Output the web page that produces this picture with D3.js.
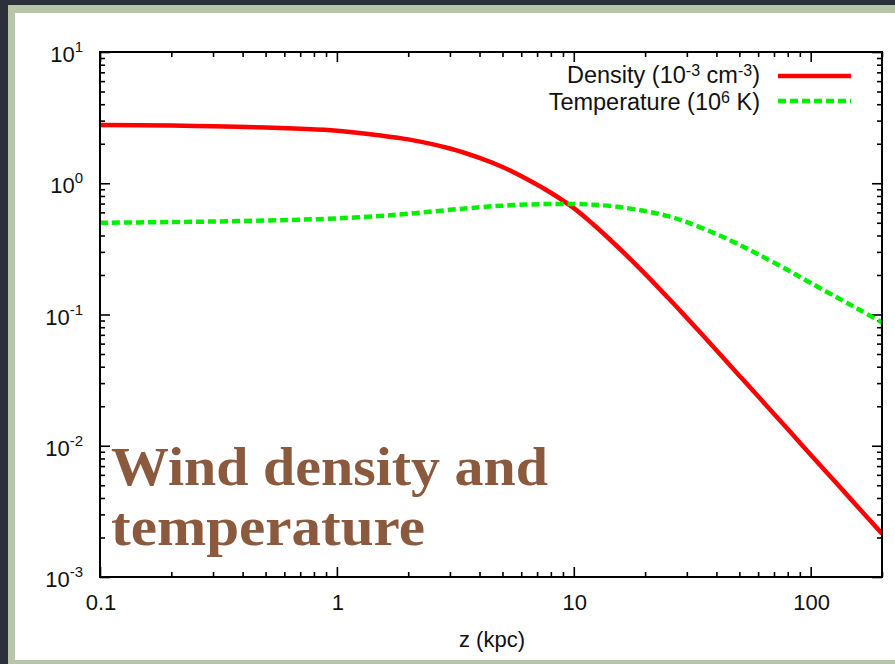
<!DOCTYPE html>
<html>
<head>
<meta charset="utf-8">
<script src="https://cdn.jsdelivr.net/npm/d3@7"></script>
<style>
  html, body { margin: 0; padding: 0; background: #2c303b; }
  svg { display: block; }
</style>
</head>
<body>
<div id="chart"></div>
<script>
// values (z in kpc)
const zValues = [0.1, 0.2, 0.3, 0.5, 0.7, 1, 1.5, 2, 3, 4, 5, 6.5, 8, 10, 12, 15, 20, 25, 30, 40, 50, 60, 80, 100, 130, 160, 200];
const density = [2.78, 2.75, 2.72, 2.66, 2.60, 2.51, 2.32, 2.16, 1.84, 1.56, 1.33, 1.05, 0.847, 0.646, 0.491, 0.340, 0.204, 0.134, 0.0942, 0.0535, 0.0342, 0.0238, 0.0134, 0.00855, 0.00506, 0.00334, 0.00214];
const temperature = [0.500, 0.506, 0.511, 0.520, 0.528, 0.540, 0.562, 0.585, 0.627, 0.656, 0.675, 0.689, 0.695, 0.695, 0.687, 0.664, 0.614, 0.561, 0.505, 0.410, 0.340, 0.288, 0.218, 0.174, 0.134, 0.109, 0.087];

const xTickLabels = ["0.1", "1", "10", "100"];
const yTickExps = ["1", "0", "-1", "-2", "-3"];

const seriesNames = [
  {label: ["Density (10", "-3", " cm", "-3", ")"], values: density, color: "#ff0000", dash: null},
  {label: ["Temperature (10", "6", " K)"], values: temperature, color: "#00f000", dash: "8,4"}
];

const W = 895, H = 664;
let margin = {top: 52, right: 13, bottom: 87, left: 100};
let width = W - margin.left - margin.right,
    height = H - margin.top - margin.bottom;

const svg = d3.select("#chart").append("svg")
  .attr("width", W)
  .attr("height", H);

// frame / card
svg.append("rect").attr("width", W).attr("height", H).attr("fill", "#2c303b");
svg.append("rect").attr("x", 8).attr("y", 5).attr("width", 900).attr("height", 700).attr("fill", "#b7c6a8");
svg.append("rect").attr("x", 15).attr("y", 13).attr("width", 900).attr("height", 647).attr("fill", "#ffffff");

const g = svg.append("g").attr("transform", `translate(${margin.left},${margin.top})`);

const x = d3.scaleLog().domain([0.1, 200]).range([0, width]);
const y = d3.scaleLog().domain([1e-3, 10]).range([height, 0]);

const isMajor = (v) => Math.abs(Math.log10(v) - Math.round(Math.log10(v))) < 1e-9;
const xMinor = x.ticks().filter(v => !isMajor(v));
const xMajor = x.ticks().filter(isMajor);
const yMinor = y.ticks().filter(v => !isMajor(v));
const yMajor = y.ticks().filter(isMajor);

const tickAxis = (axisFn, scale, values, size, transform) => {
  const a = g.append("g")
    .attr("transform", transform)
    .call(axisFn(scale).tickValues(values).tickSize(size).tickFormat(""));
  a.select(".domain").remove();
  a.selectAll(".tick line").attr("stroke", "#000").attr("stroke-width", 1.6);
};

tickAxis(d3.axisBottom, x, xMinor, -5, `translate(0,${height})`);
tickAxis(d3.axisBottom, x, xMajor, -10, `translate(0,${height})`);
tickAxis(d3.axisTop, x, xMinor, -5, "translate(0,0)");
tickAxis(d3.axisTop, x, xMajor, -10, "translate(0,0)");
tickAxis(d3.axisLeft, y, yMinor, -5, "translate(0,0)");
tickAxis(d3.axisLeft, y, yMajor, -10, "translate(0,0)");
tickAxis(d3.axisRight, y, yMinor, -5, `translate(${width},0)`);
tickAxis(d3.axisRight, y, yMajor, -10, `translate(${width},0)`);

const font = "'Liberation Sans', Arial, Helvetica, sans-serif";

// x labels
g.selectAll(".xlabel")
  .data(xMajor)
  .enter().append("text")
  .attr("class", "xlabel")
  .attr("x", d => x(d) + 1)
  .attr("y", height + 33)
  .attr("text-anchor", "middle")
  .attr("font-family", font)
  .attr("font-size", 22)
  .attr("fill", "#111")
  .text((d, i) => xTickLabels[i]);

// y labels 10^n
const yl = g.selectAll(".ylabel")
  .data(yMajor.slice().reverse())
  .enter().append("text")
  .attr("class", "ylabel")
  .attr("x", -17)
  .attr("y", d => y(d) + 10)
  .attr("text-anchor", "end")
  .attr("font-family", font)
  .attr("font-size", 22)
  .attr("fill", "#111");
yl.append("tspan").text("10");
yl.append("tspan").attr("dy", -10).attr("font-size", 15).text((d, i) => yTickExps[i]);

// axis title
g.append("text")
  .attr("x", x(Math.sqrt(0.1 * 200)) + 1)
  .attr("y", height + 70)
  .attr("text-anchor", "middle")
  .attr("font-family", font)
  .attr("font-size", 22)
  .attr("fill", "#111")
  .text("z (kpc)");

// clip
g.append("clipPath").attr("id", "plotclip")
  .append("rect").attr("width", width).attr("height", height);

const line = (vals) => d3.line()
  .x((d, i) => x(zValues[i]))
  .y(d => y(d))
  .curve(d3.curveCatmullRom.alpha(0.5))(vals);

seriesNames.forEach(s => {
  g.append("path")
    .attr("clip-path", "url(#plotclip)")
    .attr("d", line(s.values))
    .attr("fill", "none")
    .attr("stroke", s.color)
    .attr("stroke-width", 4.5)
    .attr("stroke-dasharray", s.dash);
});

// frame
g.append("rect")
  .attr("width", width).attr("height", height)
  .attr("fill", "none").attr("stroke", "#000").attr("stroke-width", 2);

// legend
seriesNames.forEach((s, i) => {
  const ly = 24 + i * 25;
  const t = g.append("text")
    .attr("x", 660)
    .attr("y", ly + (i === 0 ? 7 : 9))
    .attr("text-anchor", "end")
    .attr("font-family", font)
    .attr("font-size", 23.5)
    .attr("fill", "#111");
  s.label.forEach((part, j) => {
    const sup = j % 2 === 1;
    const ts = t.append("tspan").text(part);
    if (sup) ts.attr("dy", -7).attr("font-size", 16);
    else if (j > 0) ts.attr("dy", 7);
  });
  g.append("line")
    .attr("x1", 678).attr("x2", 751)
    .attr("y1", ly).attr("y2", ly)
    .attr("stroke", s.color)
    .attr("stroke-width", 4.5)
    .attr("stroke-dasharray", s.dash);
});

// title overlay
const title = svg.append("text")
  .attr("font-family", "'Liberation Serif', 'DejaVu Serif', serif")
  .attr("font-weight", "bold")
  .attr("font-size", 54)
  .attr("fill", "#8b5a3e");
title.append("tspan").attr("x", 111).attr("y", 485)
  .attr("textLength", 437).attr("lengthAdjust", "spacingAndGlyphs")
  .text("Wind density and");
title.append("tspan").attr("x", 111).attr("y", 545)
  .attr("textLength", 314).attr("lengthAdjust", "spacingAndGlyphs")
  .text("temperature");
</script>
</body>
</html>
